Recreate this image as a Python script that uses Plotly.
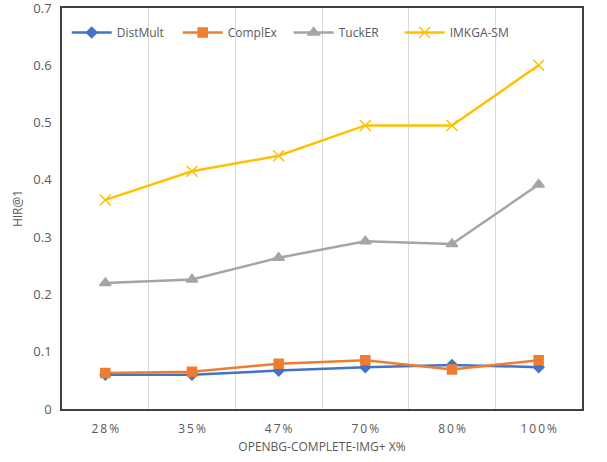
import plotly.graph_objects as go

categories = ["28%", "35%", "47%", "70%", "80%", "100%"]
distmult = [0.060, 0.060, 0.067, 0.073, 0.077, 0.073]
complex_ = [0.063, 0.065, 0.079, 0.085, 0.069, 0.085]
tucker = [0.220, 0.226, 0.264, 0.293, 0.288, 0.392]
imkga = [0.365, 0.415, 0.442, 0.495, 0.495, 0.600]
y_ticks = [0, 0.1, 0.2, 0.3, 0.4, 0.5, 0.6, 0.7]
y_tick_labels = ["0", "0.1", "0.2", "0.3", "0.4", "0.5", "0.6", "0.7"]

series = [
    ("DistMult", distmult, "#4472C4", "diamond", 8),
    ("ComplEx", complex_, "#ED7D31", "square", 9),
    ("TuckER", tucker, "#A5A5A5", "triangle-up", 10),
    ("IMKGA-SM", imkga, "#FFC000", "x-thin-open", 11),
]

fig = go.Figure()
for name, vals, color, sym, size in series:
    fig.add_trace(go.Scatter(
        x=categories, y=vals, name=name, mode="lines+markers",
        line=dict(color=color, width=2.5),
        marker=dict(symbol=sym, size=size, color=color,
                    line=dict(color=color, width=1.5)),
    ))

fig.update_layout(
    width=607, height=462,
    margin=dict(l=62, r=25, t=8, b=53, autoexpand=False),
    paper_bgcolor="white", plot_bgcolor="white",
    font=dict(family="Open Sans, Liberation Sans, sans-serif", size=12, color="#595959"),
    showlegend=True,
    legend=dict(orientation="h", x=0.009, y=0.975, xanchor="left", yanchor="top",
                bgcolor="rgba(0,0,0,0)", font=dict(size=12, color="#595959"),
                itemwidth=40, entrywidth=56, entrywidthmode="pixels",
                traceorder="normal"),
)
fig.update_xaxes(
    type="category", tickson="boundaries", range=[-0.5, 5.5], automargin=False,
    tickvals=categories, ticktext=["\u2009".join(c) for c in categories],
    showgrid=True, gridcolor="#D9D9D9", gridwidth=1,
    showline=True, linecolor="#404040", linewidth=1.5, mirror=True,
    ticks="", ticklabelstandoff=8, tickfont=dict(size=12, color="#595959"),
    title=dict(text="OPENBG-COMPLETE-IMG+ X%", font=dict(size=12, color="#595959"), standoff=6),
)
fig.update_yaxes(
    range=[0, 0.7], tickvals=y_ticks, ticktext=y_tick_labels,
    ticklabeloverflow="allow",
    showgrid=False, zeroline=False, automargin=False,
    showline=True, linecolor="#404040", linewidth=1.5, mirror=True,
    ticks="", ticklabelstandoff=6, tickfont=dict(size=13, color="#595959"),
    title=dict(text="HIR@1", font=dict(size=12, color="#595959"), standoff=8),
)
fig.write_html("out.html", config={"displayModeBar": False},
               post_script="document.body.style.margin='0';")
